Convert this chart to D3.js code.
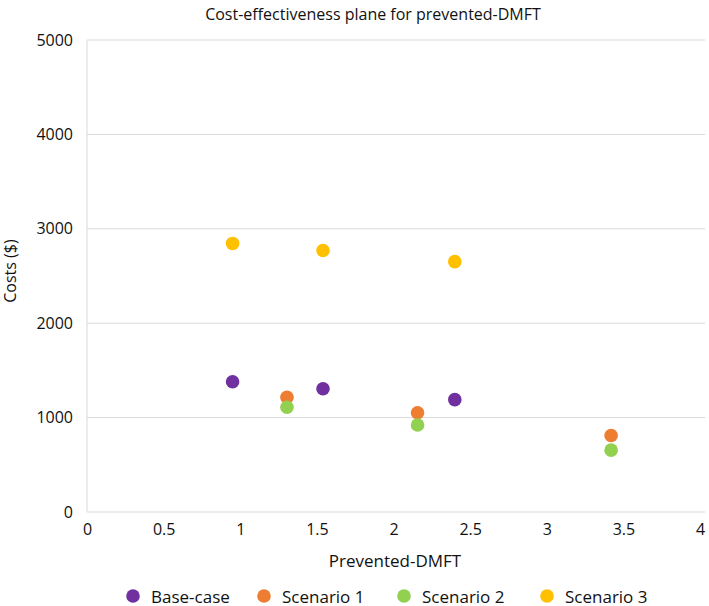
<!DOCTYPE html>
<html><head><meta charset="utf-8">
<script src="https://cdn.jsdelivr.net/npm/d3@7"></script>
<style>body{margin:0;background:#fff;} text{font-family:"Open Sans",sans-serif;fill:#111;}</style>
</head><body><svg id="c" width="709" height="606"></svg>
<script>
const seriesNames = ["Base-case","Scenario 1","Scenario 2","Scenario 3"];
const seriesColors = ["#7030A0","#ED7D31","#92D050","#FFC000"];
const baseX = [0.95,1.54,2.40];
const baseY = [1380,1305,1190];
const s1X = [1.305,2.157,3.42];
const s1Y = [1215,1052,810];
const s2X = [1.305,2.157,3.42];
const s2Y = [1110,922,655];
const s3X = [0.95,1.54,2.40];
const s3Y = [2845,2770,2652];
const xTicks = [0,0.5,1,1.5,2,2.5,3,3.5,4];
const yTicks = [0,1000,2000,3000,4000,5000];
const series = [[baseX,baseY],[s1X,s1Y],[s2X,s2Y],[s3X,s3Y]];

const svg = d3.select("#c");
const L=87,R=700,T=40,B=512;
const x = d3.scaleLinear().domain([0,4]).range([L,R]);
const y = d3.scaleLinear().domain([0,5000]).range([B,T]);

// gridlines
svg.append("g").selectAll("line").data(yTicks).join("line")
  .attr("x1",L).attr("x2",705).attr("y1",d=>y(d)).attr("y2",d=>y(d))
  .attr("stroke","#d9d9d9").attr("stroke-width",1);
svg.append("line").attr("x1",L).attr("x2",L).attr("y1",T).attr("y2",B).attr("stroke","#d9d9d9");

// axes
const yAxis = svg.append("g").attr("transform",`translate(${L},0)`)
  .call(d3.axisLeft(y).tickValues(yTicks).tickSize(0).tickPadding(14).tickFormat(d3.format("d")));
yAxis.select(".domain").remove();
yAxis.selectAll("text").style("font-size","16px");
const xAxis = svg.append("g").attr("transform",`translate(0,${B})`)
  .call(d3.axisBottom(x).tickValues(xTicks).tickSize(0).tickPadding(12).tickFormat(d=>String(d)));
xAxis.select(".domain").remove();
xAxis.selectAll("text").style("font-size","16px");

// points
series.forEach((s,i)=>{
  svg.append("g").selectAll("circle").data(s[0].map((v,j)=>[v,s[1][j]])).join("circle")
    .attr("cx",d=>x(d[0])).attr("cy",d=>y(d[1])).attr("r",6.8).attr("fill",seriesColors[i]);
});

// titles
svg.append("text").attr("x",373).attr("y",20).attr("text-anchor","middle").style("font-size","16px")
  .text("Cost-effectiveness plane for prevented-DMFT");
svg.append("text").attr("transform","translate(16,271) rotate(-90)").attr("text-anchor","middle").style("font-size","16px")
  .text("Costs ($)");
svg.append("text").attr("x",395).attr("y",567).attr("text-anchor","middle").style("font-size","17px")
  .text("Prevented-DMFT");

// legend
const legX = [133,264,404,547];
const lg = svg.append("g");
seriesNames.forEach((n,i)=>{
  lg.append("circle").attr("cx",legX[i]).attr("cy",596).attr("r",6.8).attr("fill",seriesColors[i]);
  lg.append("text").attr("x",legX[i]+18).attr("y",596).attr("dominant-baseline","central")
    .style("font-size","17px").text(n);
});
</script></body></html>
